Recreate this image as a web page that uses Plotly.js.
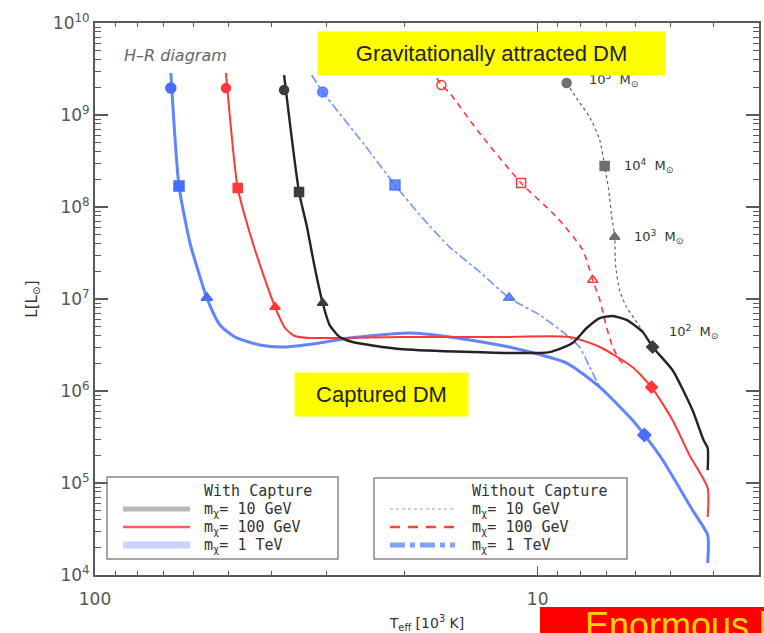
<!DOCTYPE html>
<html>
<head>
<meta charset="utf-8">
<script src="https://cdn.plot.ly/plotly-3.0.1.min.js"></script>
<style>
  html, body { margin: 0; padding: 0; background: #fff; }
  #chart { width: 764px; height: 633px; }
</style>
</head>
<body>
<div id="chart"></div>
<script>
// H-R diagram of dark stars: T_eff in 10^3 K, luminosity in solar units.

// --- evolution tracks WITH dark-matter capture ---
const teffCap10  = [37.4, 34.6, 33.2, 31.9, 30.6, 29.5, 28.0, 26.2, 20.5, 11.6, 9.40, 8.34, 7.75, 7.24, 6.77, 6.30, 5.79, 5.50, 4.96, 4.47, 4.22, 4.13, 4.13];
const lumCap10   = [2.72e9, 1.46e8, 6.07e7, 2.23e7, 9.06e6, 5.21e6, 3.86e6, 3.41e6, 2.86e6, 2.59e6, 2.65e6, 3.33e6, 4.84e6, 6.21e6, 6.53e6, 5.92e6, 4.38e6, 3.01e6, 1.69e6, 6.21e5, 2.93e5, 2.40e5, 1.38e5];

const teffCap100 = [50.6, 47.6, 44.7, 41.8, 39.2, 37.2, 35.4, 32.7, 20.5, 12.2, 8.47, 7.24, 6.11, 5.53, 4.96, 4.54, 4.13, 4.13];
const lumCap100  = [2.86e9, 1.61e8, 5.21e7, 1.92e7, 8.18e6, 4.84e6, 3.96e6, 3.77e6, 3.86e6, 3.86e6, 3.86e6, 3.01e6, 1.82e6, 1.10e6, 4.84e5, 2.01e5, 8.83e4, 4.27e4];

const teffCap1T  = [67.4, 64.6, 61.0, 57.9, 55.9, 52.2, 48.3, 42.4, 37.6, 31.1, 26.6, 19.45, 15.8, 11.6, 8.60, 7.24, 6.11, 5.74, 5.22, 4.47, 4.13, 4.13];
const lumCap1T   = [2.86e9, 1.69e8, 4.06e7, 1.73e7, 1.03e7, 5.21e6, 3.86e6, 3.16e6, 3.01e6, 3.33e6, 3.77e6, 4.27e6, 3.86e6, 3.01e6, 2.01e6, 1.10e6, 4.84e5, 3.33e5, 1.78e5, 5.09e4, 2.72e4, 1.35e4];

// --- evolution tracks WITHOUT capture (gravitationally attracted DM only) ---
const teffNo10   = [8.60, 8.12, 7.63, 7.24, 7.06, 6.91, 6.81, 6.70, 6.67, 6.53, 6.30, 5.89, 5.50];
const lumNo10    = [2.23e9, 1.46e9, 9.5e8, 5.35e8, 2.79e8, 1.53e8, 8.19e7, 4.72e7, 2.34e7, 1.25e7, 8.18e6, 5.09e6, 3.01e6];

const teffNo100  = [16.9, 16.5, 15.8, 13.7, 10.9, 9.06, 7.91, 7.51, 7.24, 6.99, 6.77, 6.53, 6.30];
const lumNo100   = [2.52e9, 2.12e9, 1.73e9, 6.87e8, 1.82e8, 7.78e7, 3.41e7, 1.61e7, 9.75e6, 4.97e6, 3.01e6, 2.17e6, 1.82e6];

const teffNo1T   = [32.4, 30.6, 24.6, 21.0, 18.2, 15.8, 13.5, 11.6, 9.90, 8.60, 8.04, 7.63, 7.24];
const lumNo1T    = [2.72e9, 1.78e9, 4.72e8, 1.73e8, 7.59e7, 3.67e7, 1.96e7, 1.03e7, 6.70e6, 4.06e6, 3.01e6, 1.82e6, 1.10e6];

// --- stellar-mass markers along each track (10^5, 10^4, 10^3, 10^2 M_sun) ---
const markCap10T  = [37.4, 34.6, 30.6, 5.50];  const markCap10L  = [1.87e9, 1.46e8, 9.06e6, 3.01e6];
const markCap100T = [50.6, 47.6, 39.2, 5.53];  const markCap100L = [1.96e9, 1.61e8, 8.18e6, 1.10e6];
const markCap1TT  = [67.4, 64.6, 55.9, 5.74];  const markCap1TL  = [1.96e9, 1.69e8, 1.03e7, 3.33e5];
const markNo10T   = [8.60, 7.06, 6.70];        const markNo10L   = [2.23e9, 2.79e8, 4.72e7];
const markNo100T  = [16.5, 10.9, 7.51];        const markNo100L  = [2.12e9, 1.82e8, 1.61e7];
const markNo1TT   = [30.6, 21.0, 11.6];        const markNo1TL   = [1.78e9, 1.73e8, 1.03e7];
const markSymbols = ['circle', 'square', 'triangle-up', 'diamond'];

// mass labels along the 10 GeV track without capture
const massLabels = ['10<sup>5</sup>\u00a0\u00a0M<sub>⊙</sub>', '10<sup>4</sup>\u00a0\u00a0M<sub>⊙</sub>', '10<sup>3</sup>\u00a0\u00a0M<sub>⊙</sub>', '10<sup>2</sup>\u00a0\u00a0M<sub>⊙</sub>'];
const massLabelT = [8.60, 7.06, 6.70, 5.50];
const massLabelL = [2.23e9, 2.79e8, 4.72e7, 3.01e6];

// axis ticks
const xTickVals = [10, 100];
const xTickText = ['10', '100'];
const xMinorVals = [4, 5, 6, 7, 8, 9, 20, 30, 40, 50, 60, 70, 80, 90];
const yExponents = [4, 5, 6, 7, 8, 9, 10];

// legend labels
const legendHeaders = ['With Capture', 'Without Capture'];
const dmMasses = ['10 GeV', '100 GeV', '1 TeV'];

// ---------------------------------------------------------------
const C_BLACK = 'rgb(35,35,35)';
const C_GRAY  = 'rgb(95,95,95)';
const C_RED   = 'rgb(255,55,55)';
const C_BLUE  = 'rgba(70,110,255,0.85)';
const FONT    = 'DejaVu Sans';
const AX_COL  = '#5a5a5a';

function track(x, y, color, width, dash) {
  return { x: x, y: y, type: 'scatter', mode: 'lines', showlegend: false, hoverinfo: 'skip',
           line: { color: color, width: width, dash: dash, shape: 'spline', smoothing: 0.6 } };
}
function marks(x, y, color, open, size) {
  const sym = markSymbols.slice(0, x.length).map(s => open ? s + '-open' : s);
  return { x: x, y: y, type: 'scatter', mode: 'markers', showlegend: false, hoverinfo: 'skip',
           marker: { symbol: sym, size: size, color: color, line: { color: color, width: 1.5 } } };
}

const traces = [
  track(teffNo10,  lumNo10,  C_GRAY, 1.2, 'dot'),
  track(teffNo100, lumNo100, C_RED,  1.6, '6px,5px'),
  track(teffNo1T,  lumNo1T,  'rgba(80,120,255,0.8)', 1.6, 'dashdot'),
  track(teffCap1T,  lumCap1T,  C_BLUE,  3.0, 'solid'),
  track(teffCap100, lumCap100, C_RED,   2.0, 'solid'),
  track(teffCap10,  lumCap10,  C_BLACK, 2.4, 'solid'),
  marks(markNo10T,  markNo10L,  'rgb(110,110,110)', false, 9),
  marks(markNo100T, markNo100L, C_RED, true, 9),
  marks(markNo1TT,  markNo1TL,  'rgba(70,110,255,0.8)', false, 10),
  marks(markCap1TT,  markCap1TL,  'rgb(70,110,255)', false, 10),
  marks(markCap100T, markCap100L, C_RED, false, 9),
  marks(markCap10T,  markCap10L,  'rgb(60,60,60)', false, 9)
];

// plot-area geometry (pixels) used to place decorations in paper units
const G = { l: 95, r: 5, t: 23, b: 58, W: 764, H: 633 };
const PW = G.W - G.l - G.r, PH = G.H - G.t - G.b;
const px = v => (v - G.l) / PW;
const py = v => (G.H - G.b - v) / PH;

const yMinor = [];
for (let e = 4; e < 10; e++) for (let k = 2; k <= 9; k++) yMinor.push(k * Math.pow(10, e));

const shapes = [];
const annotations = [];

// mass labels (drawn first, so the yellow banner can overlap the top one)
const lblShiftX = [20, 17, 17, 14];
const lblShiftY = [3, 0, 0, 15];
massLabels.forEach((t, i) => annotations.push({
  x: Math.log10(massLabelT[i]), y: Math.log10(massLabelL[i]), xref: 'x', yref: 'y',
  text: t, showarrow: false, xanchor: 'left', yanchor: 'middle',
  xshift: lblShiftX[i], yshift: lblShiftY[i],
  font: { family: FONT, size: 13, color: '#333' }
}));

// banners
annotations.push({
  xref: 'paper', yref: 'paper', x: px(491.5), y: py(53.5), xanchor: 'center', yanchor: 'middle',
  text: 'Gravitationally attracted DM', showarrow: false, bgcolor: '#ffff00',
  width: 347, height: 43, borderpad: 0,
  font: { family: 'Liberation Sans', size: 22, color: '#222' }
});
annotations.push({
  xref: 'paper', yref: 'paper', x: px(381.5), y: py(394.5), xanchor: 'center', yanchor: 'middle',
  text: 'Captured DM', showarrow: false, bgcolor: '#ffff00',
  width: 173, height: 43, borderpad: 0,
  font: { family: 'Liberation Sans', size: 22, color: '#222' }
});
annotations.push({
  xref: 'paper', yref: 'paper', x: px(122), y: py(55), xanchor: 'left', yanchor: 'middle',
  text: 'H\u2013R diagram', showarrow: false,
  font: { family: FONT, size: 16, color: '#666', style: 'italic' }
});

// legends
const legendBoxes = [[107, 477, 338, 559], [374, 478, 627, 559]];
const legendLineX = [[123, 190], [390, 455]];
const legendTextX = [202, 470];
const rowsY = [509, 527, 545];
const legendStyles = [
  [{ c: 'rgb(185,185,185)', w: 5, d: 'solid' }, { c: 'rgb(255,90,90)', w: 2.5, d: 'solid' }, { c: 'rgb(200,212,255)', w: 7, d: 'solid' }],
  [{ c: 'rgb(205,205,205)', w: 2, d: 'dot' }, { c: 'rgb(255,70,70)', w: 2.5, d: '10px,8px' }, { c: 'rgb(130,160,255)', w: 5, d: 'dashdot' }]
];
legendBoxes.forEach((b, j) => {
  shapes.push({ type: 'rect', xref: 'paper', yref: 'paper', x0: px(b[0]), x1: px(b[2]), y0: py(b[3]), y1: py(b[1]),
                line: { color: '#888', width: 1.5 }, fillcolor: 'rgba(0,0,0,0)', layer: 'above' });
  annotations.push({ xref: 'paper', yref: 'paper', x: px(legendTextX[j]), y: py(491), xanchor: 'left', yanchor: 'middle',
                     text: legendHeaders[j], showarrow: false, font: { family: 'DejaVu Sans Mono', size: 15, color: '#333' } });
  dmMasses.forEach((m, i) => {
    const s = legendStyles[j][i];
    shapes.push({ type: 'line', xref: 'paper', yref: 'paper', x0: px(legendLineX[j][0]), x1: px(legendLineX[j][1]),
                  y0: py(rowsY[i]), y1: py(rowsY[i]), line: { color: s.c, width: s.w, dash: s.d }, layer: 'above' });
    annotations.push({ xref: 'paper', yref: 'paper', x: px(legendTextX[j]), y: py(rowsY[i]), xanchor: 'left', yanchor: 'middle',
                       text: 'm<sub>χ</sub>=\u00a0' + m, showarrow: false, font: { family: 'DejaVu Sans Mono', size: 15, color: '#333' } });
  });
});

// red banner at the bottom right (continues past the lower edge of the page)
shapes.push({ type: 'rect', xref: 'paper', yref: 'paper', x0: px(540), x1: px(770), y0: py(660), y1: py(607),
              line: { width: 0 }, fillcolor: '#ff0000', layer: 'above' });
annotations.push({ xref: 'paper', yref: 'paper', x: px(583), y: py(648), xanchor: 'left', yanchor: 'bottom',
                   text: 'Enormous luminosity', showarrow: false, font: { family: 'Liberation Sans', size: 36, color: '#ffd400' } });

const axisCommon = {
  type: 'log', showgrid: false, zeroline: false, showline: true, linewidth: 2, linecolor: AX_COL,
  mirror: 'ticks', ticks: 'inside', tickcolor: AX_COL, tickwidth: 1.3,
  tickfont: { family: FONT, size: 17, color: '#555' }
};

const layout = {
  width: G.W, height: G.H,
  margin: { l: G.l, r: G.r, t: G.t, b: G.b },
  paper_bgcolor: '#fff', plot_bgcolor: '#fff',
  showlegend: false,
  xaxis: Object.assign({}, axisCommon, {
    range: [2, 0.5], autorange: false,
    tickmode: 'array', tickvals: xTickVals, ticktext: xTickText, ticklen: 9,
    ticklabelstandoff: 8,
    minor: { tickmode: 'array', tickvals: xMinorVals, ticks: 'inside', ticklen: 4, tickcolor: AX_COL, tickwidth: 1.1, showgrid: false },
    title: { text: 'T<sub>eff</sub> [10<sup>3</sup> K]', font: { family: FONT, size: 14, color: '#333' }, standoff: 12 }
  }),
  yaxis: Object.assign({}, axisCommon, {
    range: [4, 10], autorange: false,
    tickmode: 'array', tickvals: yExponents.map(e => Math.pow(10, e)),
    ticktext: yExponents.map(e => '10<sup>' + e + '</sup>'), ticklen: 13,
    minor: { tickmode: 'array', tickvals: yMinor, ticks: 'inside', ticklen: 6, tickcolor: AX_COL, tickwidth: 1.1, showgrid: false },
    title: { text: 'L[L<sub>⊙</sub>]', font: { family: FONT, size: 15, color: '#333' }, standoff: 12 }
  }),
  shapes: shapes,
  annotations: annotations
};

Plotly.newPlot('chart', traces, layout, { staticPlot: true, displayModeBar: false });
</script>
</body>
</html>
